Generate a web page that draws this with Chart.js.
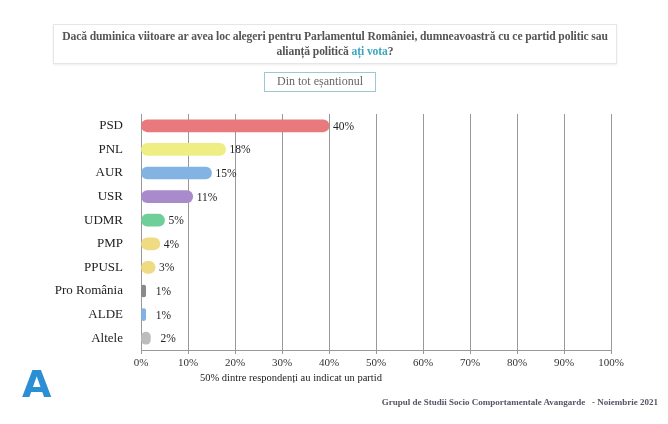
<!DOCTYPE html>
<html><head><meta charset="utf-8">
<script src="https://cdn.jsdelivr.net/npm/chart.js@4"></script>
<style>
body{margin:0;width:668px;height:424px;background:#fff;font-family:"Liberation Serif",serif;position:relative;overflow:hidden}
#c{position:absolute;left:0;top:0}
.q{position:absolute;left:53px;top:24px;width:564px;height:40px;border:1px solid #e4e6e8;box-shadow:0 1px 2px #eee;text-align:center;font-size:11.6px;font-weight:bold;color:#555;line-height:15px;padding-top:4px;box-sizing:border-box;white-space:nowrap;letter-spacing:-0.1px}
.q span{color:#3aa6c0}
.s{position:absolute;left:264px;top:72px;width:112px;height:20px;border:1.5px solid #9cc9cf;text-align:center;font-size:12px;color:#666;line-height:17px;box-sizing:border-box}
.n{position:absolute;left:200px;top:372px;font-size:10.5px;color:#222}
.f{position:absolute;right:10px;top:397px;font-size:9px;font-weight:bold;color:#556}
.logo{position:absolute;left:22px;top:362px;font:bold 38px "DejaVu Sans",sans-serif;color:#2b8fd6}
</style></head><body>
<canvas id="c" width="668" height="424"></canvas>
<div class="q">Dacă duminica viitoare ar avea loc alegeri pentru Parlamentul României, dumneavoastră cu ce partid politic sau<br>alianță politică <span>ați vota</span>?</div>
<div class="s">Din tot eșantionul</div>
<div class="n">50% dintre respondenți au indicat un partid</div>
<div class="logo">A</div>
<div class="f">Grupul de Studii Socio Comportamentale Avangarde &nbsp;&nbsp;- Noiembrie 2021</div>
<script>
const PARTIDE = [
  { nume:'PSD',         val:40, col:'#e8797c' },
  { nume:'PNL',         val:18, col:'#eeee84' },
  { nume:'AUR',         val:15, col:'#82b3e2' },
  { nume:'USR',         val:11, col:'#a98bcc' },
  { nume:'UDMR',        val:5,  col:'#6fcf99' },
  { nume:'PMP',         val:4,  col:'#efdc82' },
  { nume:'PPUSL',       val:3,  col:'#efdc82' },
  { nume:'Pro România', val:1,  col:'#8a8a8a' },
  { nume:'ALDE',        val:1,  col:'#82b3e2' },
  { nume:'Altele',      val:2,  col:'#bdbdbd' },
];
const F = '"Liberation Serif", serif';

// valoare la capatul barei
const labelsPlugin = {
  id:'vals',
  afterDatasetsDraw(ch) {
    const ctx = ch.ctx;
    ctx.save();
    ctx.font = '11.5px ' + F; ctx.fillStyle = '#222'; ctx.textBaseline = 'middle';
    ch.getDatasetMeta(0).data.forEach((b, i) => {
      const gap = PARTIDE[i].val <= 2 ? 10 : 4;
      ctx.fillText(PARTIDE[i].val + '%', b.x + gap, b.y + 1);
    });
    ctx.restore();
  }
};

new Chart(document.getElementById('c'), {
  type:'bar',
  data:{
    labels: PARTIDE.map(p => p.nume),
    datasets:[{ data: PARTIDE.map(p => p.val), backgroundColor: PARTIDE.map(p => p.col),
      borderRadius:6, borderSkipped:false, barThickness:12 }]
  },
  options:{
    indexAxis:'y', responsive:false, animation:false,
    layout:{ padding:{ top:114, bottom:54, right:57, left:0 } },
    plugins:{ legend:{ display:false }, tooltip:{ enabled:false } },
    scales:{
      x:{ min:0, max:100, ticks:{ stepSize:10, color:'#333', font:{ family:F, size:11 }, callback:v => v + '%' },
          grid:{ color:'#999', drawTicks:true, tickLength:4 }, border:{ color:'#999' },
          afterFit:s => { s.height = 20; } },
      y:{ ticks:{ color:'#222', font:{ family:F, size:13 }, padding:10 },
          grid:{ display:false }, border:{ color:'#999' },
          afterFit:s => { s.width = 141; } }
    }
  },
  plugins:[labelsPlugin]
});
</script>
</body></html>
